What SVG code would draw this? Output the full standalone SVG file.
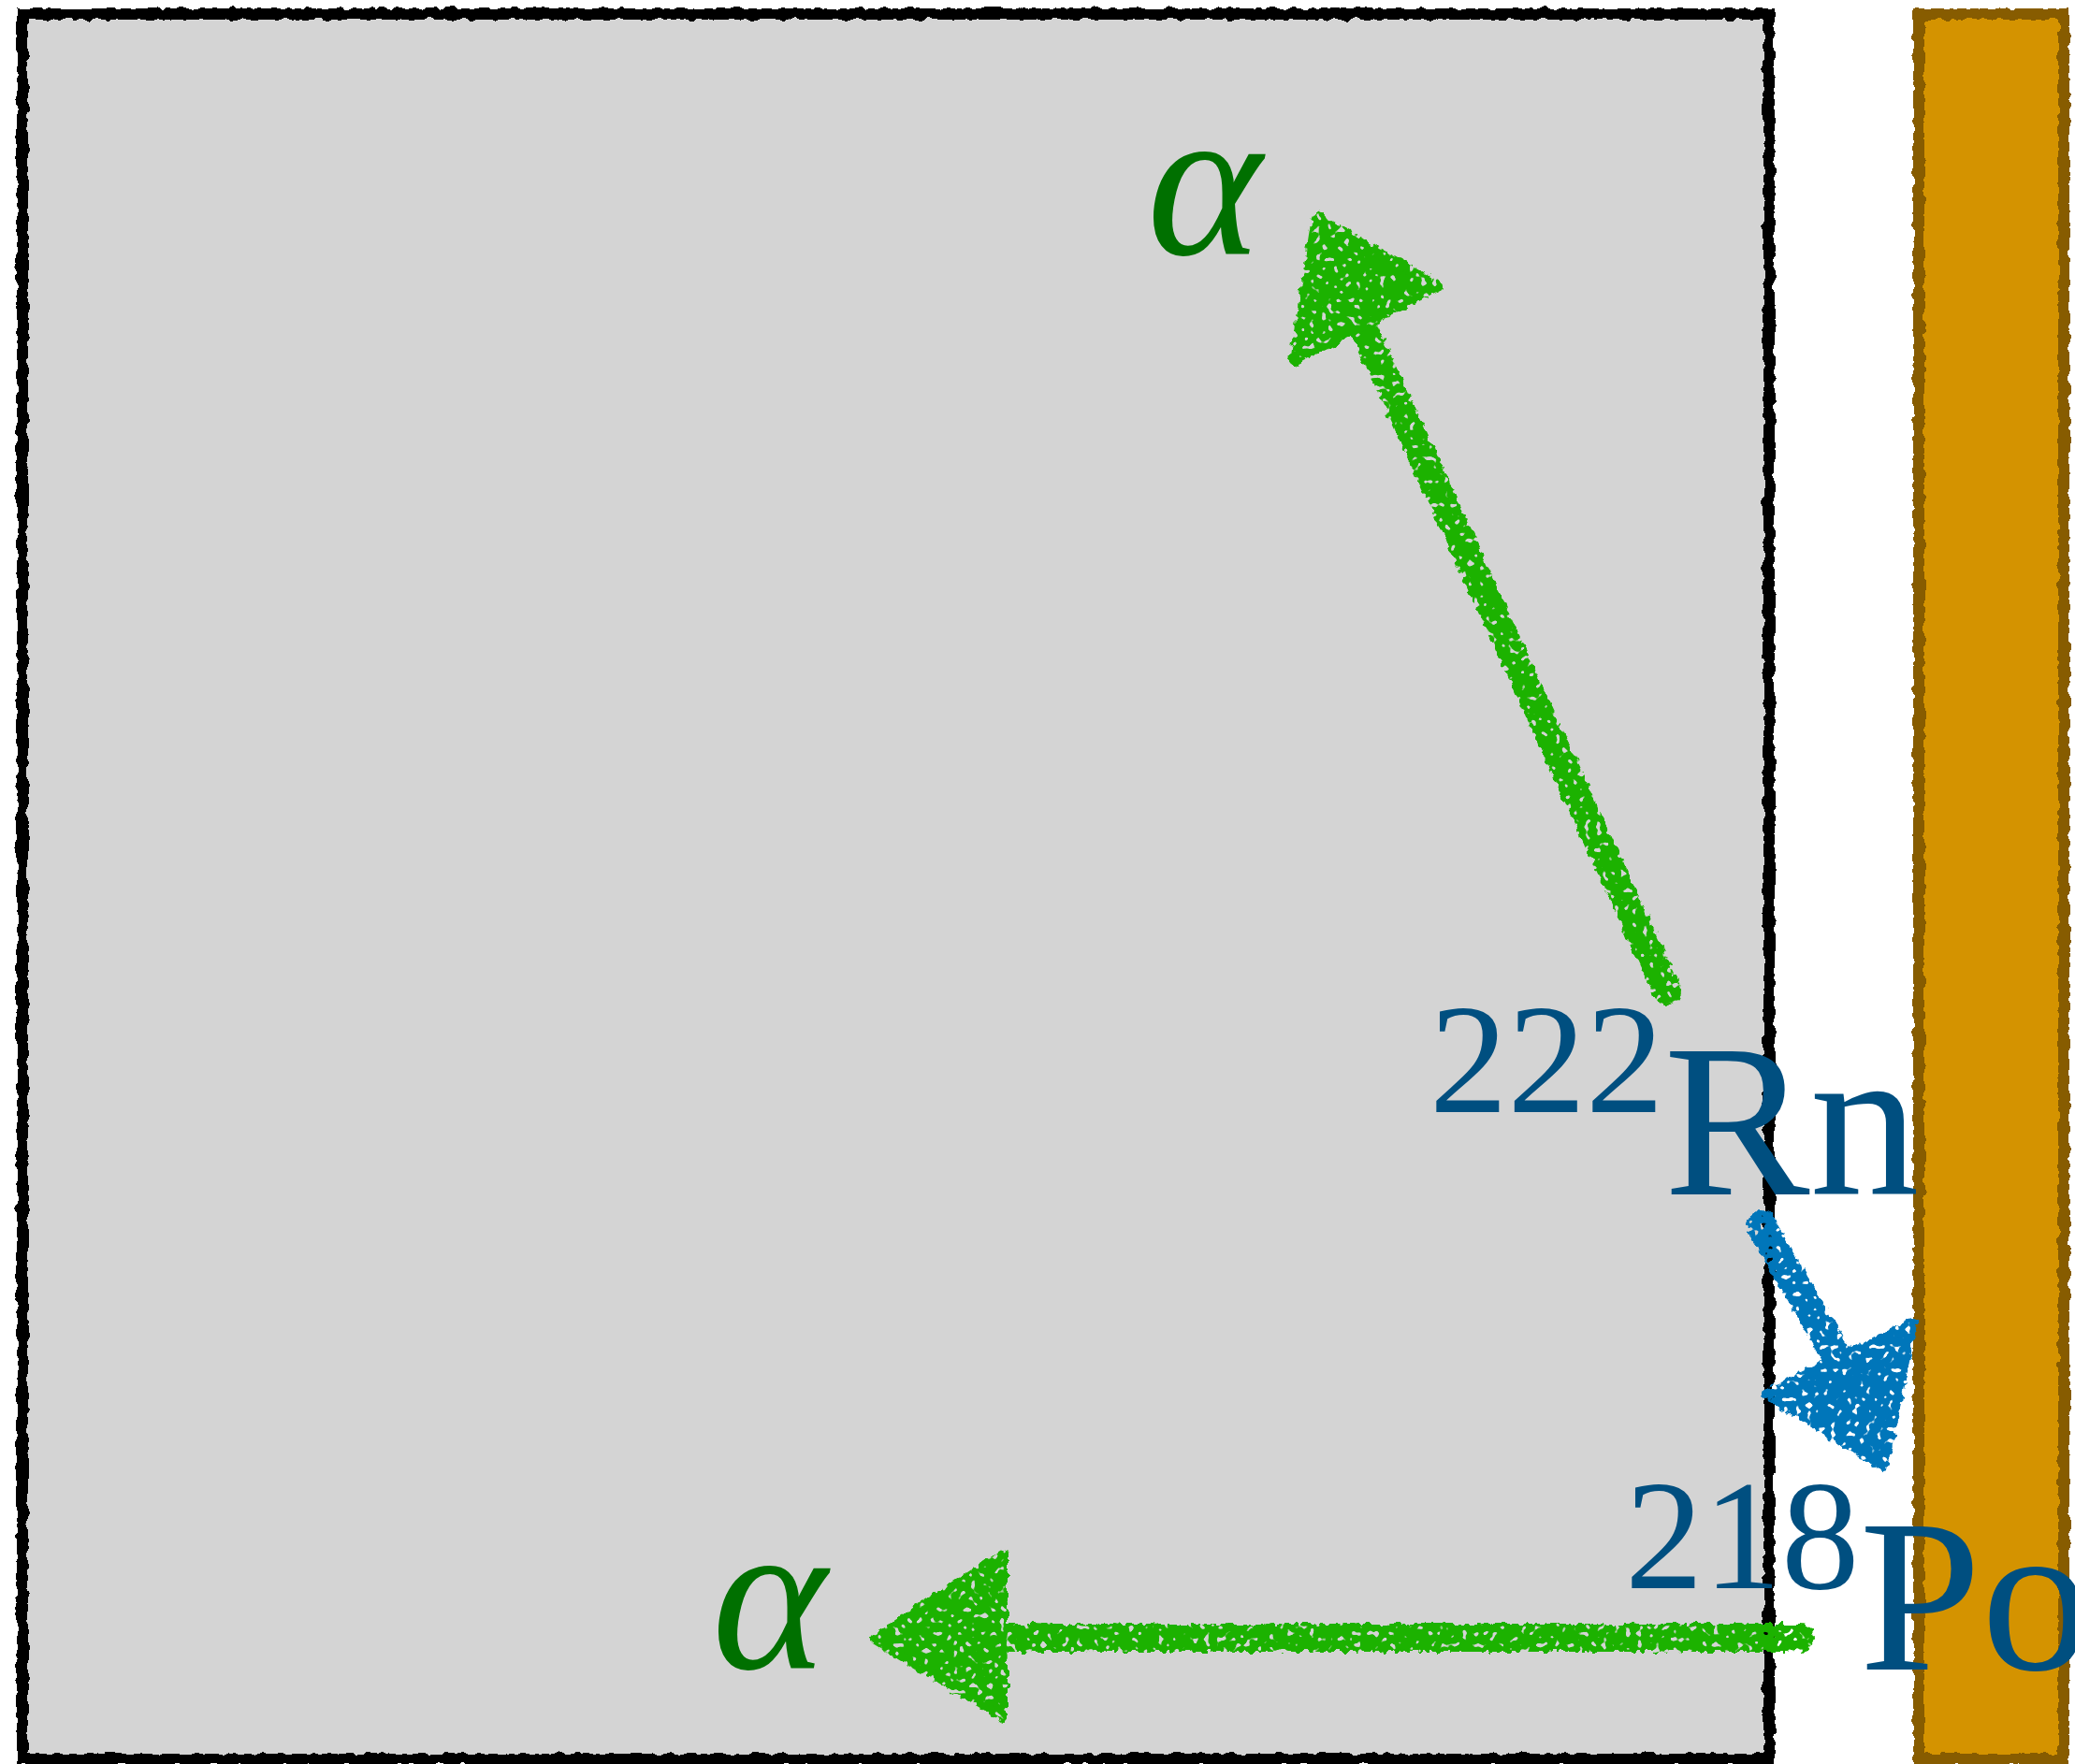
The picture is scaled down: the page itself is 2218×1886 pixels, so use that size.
<svg xmlns="http://www.w3.org/2000/svg" width="2218" height="1886" viewBox="0 0 2218 1886">
<style>
.lbl{font-family:"Liberation Serif","Times New Roman",serif;fill:#004f80}
.alpha{font-family:"Liberation Serif","Times New Roman",serif;font-style:italic;fill:#007000;font-size:234px}
.gshaft{stroke:#1fb200;stroke-width:30;stroke-linecap:round;fill:none}
.ghead{fill:#1fb200;stroke:#1fb200;stroke-width:10;stroke-linejoin:round}
.bshaft{stroke:#0076ba;stroke-width:32;stroke-linecap:round;fill:none}
.bhead{fill:#0076ba;stroke:#0076ba;stroke-width:10;stroke-linejoin:round}
</style>
<defs>
<filter id="rough" x="-5%" y="-5%" width="110%" height="110%">
<feTurbulence type="fractalNoise" baseFrequency="0.09" numOctaves="2" seed="3" result="n"/>
<feDisplacementMap in="SourceGraphic" in2="n" scale="8" xChannelSelector="R" yChannelSelector="G"/>
</filter>
<filter id="chalk" x="-10%" y="-10%" width="120%" height="120%">
<feTurbulence type="fractalNoise" baseFrequency="0.12" numOctaves="2" seed="7" result="n"/>
<feDisplacementMap in="SourceGraphic" in2="n" scale="10" xChannelSelector="R" yChannelSelector="G" result="d"/>
<feTurbulence type="fractalNoise" baseFrequency="0.16" numOctaves="1" seed="11" result="n2"/>
<feColorMatrix in="n2" type="matrix" values="0 0 0 0 0  0 0 0 0 0  0 0 0 0 0  -15 0 0 0 10.2" result="holes"/>
<feComposite in="d" in2="holes" operator="in"/>
</filter>
</defs>
<rect width="2218" height="1886" fill="#ffffff"/>
<g id="gray-box">
<rect x="24" y="15" width="1867" height="1866" fill="#d4d4d4" stroke="#000000" stroke-width="12" filter="url(#rough)"/>
</g>
<g id="orange-bar">
<rect x="2051" y="15" width="155" height="1866" fill="#d49303" stroke="#875b00" stroke-width="12" filter="url(#rough)"/>
</g>
<g id="connectors" filter="url(#chalk)">
<line class="gshaft" x1="1782" y1="1060" x2="1458" y2="352"/>
<polygon class="ghead" points="1407,232 1383,386 1538,306"/>
<line class="gshaft" x1="1925" y1="1751" x2="1073" y2="1751"/>
<polygon class="ghead" points="934,1752 1072,1662 1072,1836"/>
<line class="bshaft" x1="1882" y1="1310" x2="1963" y2="1450"/>
<polygon class="bhead" points="2013,1568 2044,1416 1888,1490"/>
</g>
<g id="label-rn">
<text class="lbl" x="1528" y="1189"><tspan font-size="167">222</tspan><tspan y="1277" font-size="234">Rn</tspan></text>
</g>
<g id="label-po">
<text class="lbl" x="1737" y="1698"><tspan font-size="167">218</tspan><tspan y="1785" font-size="234">Po</tspan></text>
</g>
<g id="label-alpha-top">
<text class="alpha" x="1226" y="272">α</text>
</g>
<g id="label-alpha-bottom">
<text class="alpha" x="761" y="1784">α</text>
</g>
</svg>
